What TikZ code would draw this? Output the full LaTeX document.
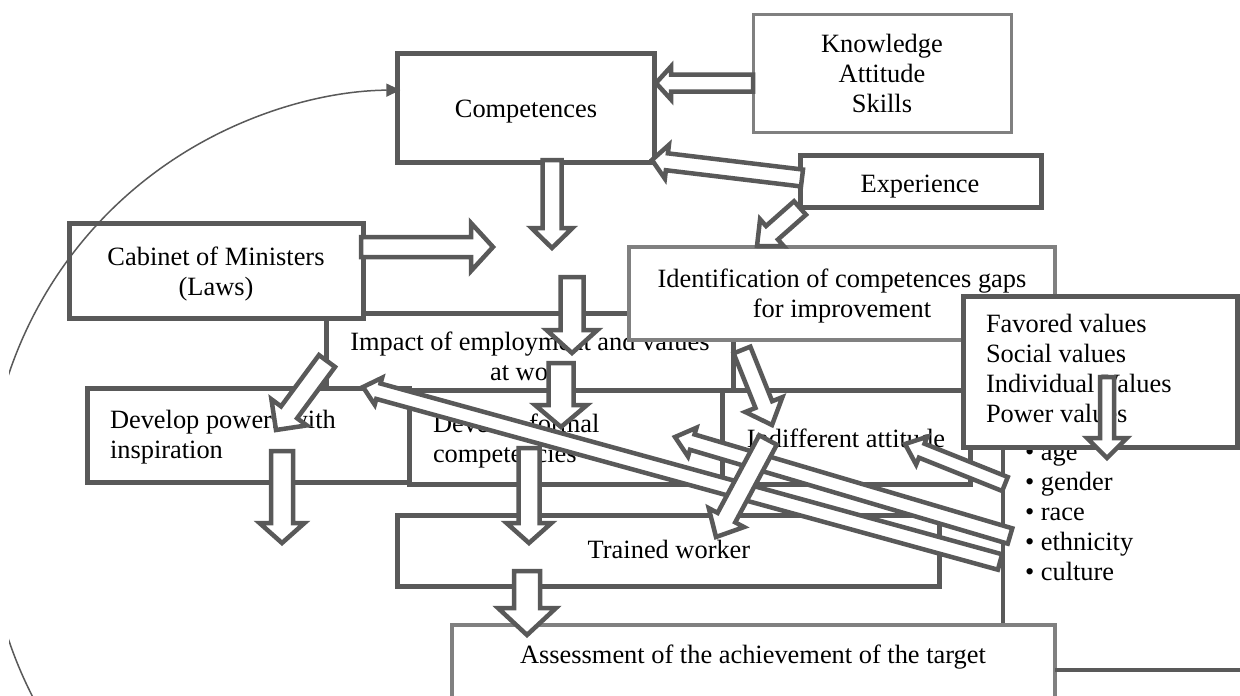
\documentclass[tikz,border=0pt]{standalone}
\usepackage{fontspec}
\setmainfont{Liberation Serif}
\usetikzlibrary{calc,arrows.meta}
\definecolor{dg}{HTML}{595959}
\definecolor{lg}{HTML}{808080}
\newcommand\hollowarrow[5]{%
  \coordinate (hah) at ($(#2)!#5pt!(#1)$);
  \draw[harrow] ($(#1)!#3pt!90:(#2)$) -- ($(hah)!#3pt!90:(#2)$) -- ($(hah)!#4pt!90:(#2)$) -- (#2)
    -- ($(hah)!#4pt!-90:(#2)$) -- ($(hah)!#3pt!-90:(#2)$) -- ($(#1)!#3pt!-90:(#2)$) -- cycle;}
\begin{document}
\begin{tikzpicture}[x=1pt,y=-1pt,
  every node/.style={font=\fontsize{26.4}{30}\selectfont, inner sep=0pt, outer sep=0pt, text=black},
  dbox/.style={draw=dg, line width=5pt, fill=white},
  lbox/.style={draw=lg, line width=4.5pt, fill=white},
  thinbox/.style={draw=lg, line width=3pt, fill=white},
  dline/.style={draw=dg, line width=4.5pt},
  harrow/.style={draw=dg, fill=white, line width=4.5pt, line join=miter, miter limit=10},
  txt/.style={align=center},
  ltxt/.style={align=left}]
\useasboundingbox (0,0) rectangle (1240,696);
\clip (0,0) rectangle (1240,696);
\fill[white] (0,0) rectangle (1240,696);

% impact box and text
\node[dbox, minimum width=407pt, minimum height=77pt] (impact) at (529.5,351.5) {};
\node[txt, anchor=north] (impactt) at (530,329) {\strut Impact of employment and values\\at work};
% cabinet
\node[dbox, minimum width=294pt, minimum height=95pt] (cab) at (216,270.5) {};
\node[txt, anchor=north] (cabt) at (216,244) {\strut Cabinet of Ministers\\(Laws)};
% identification
\node[lbox, minimum width=426pt, minimum height=93pt] (ident) at (842,293.5) {};
\node[txt, anchor=north] (identt) at (842,266) {\strut Identification of competences gaps\\for improvement};
% develop boxes
\node[dbox, minimum width=322pt, minimum height=94pt] (powers) at (248,435) {};
\node[ltxt, anchor=north west] (powerst) at (110,407) {\strut Develop powers with\\inspiration};
\node[dbox, minimum width=313pt, minimum height=94pt] (formal) at (565.5,437) {};
\node[ltxt, anchor=north west] (formalt) at (433,411) {\strut Develop formal\\competencies};
\node[dbox, minimum width=248pt, minimum height=94pt] (indiff) at (846,437) {};
\node[anchor=base] (indifft) at (846,447) {Indifferent attitude};
% trained
\node[dbox, minimum width=542pt, minimum height=71pt] (trained) at (668,550.5) {};
\node[anchor=base] (trainedt) at (669,558) {Trained worker};
% list line and values
\coordinate (l1) at (1003,447);
\coordinate (l2) at (1003,625);
\draw[dline] (l1) -- (l2);
\node[ltxt, anchor=north west] (listt) at (1025,439) {\strut • age\\• gender\\• race\\• ethnicity\\• culture};
\node[dbox, minimum width=274pt, minimum height=151pt] (values) at (1100,371.5) {};
\node[ltxt, anchor=north west] (valuest) at (986,311) {\strut Favored values\\Social values\\Individual Values\\Power values};
% top boxes
\node[dbox, minimum width=257pt, minimum height=109pt] (comp) at (525.5,107.5) {};
\node[anchor=base] (compt) at (526,117) {Competences};
\node[thinbox, minimum width=258pt, minimum height=118pt] (know) at (882,73) {};
\node[txt, anchor=north] (knowt) at (882,31) {\strut Knowledge\\Attitude\\Skills};
\node[dbox, minimum width=241pt, minimum height=52pt] (exp) at (920.5,181) {};
\node[anchor=base] (expt) at (920,192) {Experience};
% assessment
\node[lbox, minimum width=603pt, minimum height=95pt] (assess) at (753.5,672.5) {};
\node[anchor=base] (assesst) at (753,663) {Assessment of the achievement of the target};
\coordinate (as1) at (1055,670);
\coordinate (as2) at (1242,670);
\draw[dline] (as1) -- (as2);

% curved arrow (clipped at the left margin)
\begin{scope}
\clip (9,0) rectangle (1240,696);
\coordinate (arcc) at (404,507);
\draw[dg, line width=1.5pt, -{Triangle[length=14pt,width=13pt]}] (arcc) ++(150:417) arc[start angle=150, end angle=269.5, radius=417];
\end{scope}

% hollow arrows
\coordinate (a1s) at (552,160);  \coordinate (a1e) at (552,248);
\coordinate (a2s) at (361,247);  \coordinate (a2e) at (493,247);
\coordinate (a3s) at (572,277);  \coordinate (a3e) at (572,353);
\coordinate (a4s) at (561,363);  \coordinate (a4e) at (561,427);
\coordinate (a5s) at (327,361);  \coordinate (a5e) at (276,430);
\coordinate (a6s) at (282,451);  \coordinate (a6e) at (282,543);
\coordinate (a7s) at (529,448);  \coordinate (a7e) at (529,543);
\coordinate (a8s) at (527,571);  \coordinate (a8e) at (527,635);
\coordinate (a9s) at (753,83);   \coordinate (a9e) at (656,83);
\coordinate (a10s) at (802,178); \coordinate (a10e) at (652,160);
\coordinate (a11s) at (800,208); \coordinate (a11e) at (757,246);
\coordinate (a12s) at (742,350); \coordinate (a12e) at (772,425);
\coordinate (a13s) at (1005,484); \coordinate (a13e) at (905,444);
\coordinate (a14s) at (1010,536); \coordinate (a14e) at (675,437);
\coordinate (a15s) at (1000,562); \coordinate (a15e) at (363,387);
\coordinate (a16s) at (768,440); \coordinate (a16e) at (716,537);
\coordinate (a17s) at (1107,377); \coordinate (a17e) at (1107,458);

\hollowarrow{a1s}{a1e}{9.5}{20.5}{20}
\hollowarrow{a2s}{a2e}{10}{24}{22}
\hollowarrow{a3s}{a3e}{11.5}{25.5}{23}
\hollowarrow{a4s}{a4e}{12.5}{26}{22}
\hollowarrow{a5s}{a5e}{10}{22}{22}
\hollowarrow{a6s}{a6e}{11}{22.5}{20}
\hollowarrow{a7s}{a7e}{10.5}{22.5}{20}
\hollowarrow{a8s}{a8e}{13}{29}{27}
\hollowarrow{a9s}{a9e}{8.5}{16.5}{15}
\hollowarrow{a10s}{a10e}{8.5}{17}{15}
\hollowarrow{a11s}{a11e}{9}{18}{20}
\hollowarrow{a12s}{a12e}{9}{20}{22}
\hollowarrow{a15s}{a15e}{8}{14}{16}
\hollowarrow{a14s}{a14e}{8}{15}{18}
\hollowarrow{a13s}{a13e}{7.5}{15}{18}
\hollowarrow{a16s}{a16e}{10}{20}{22}
\hollowarrow{a17s}{a17e}{7}{20}{20}
\end{tikzpicture}
\end{document}
